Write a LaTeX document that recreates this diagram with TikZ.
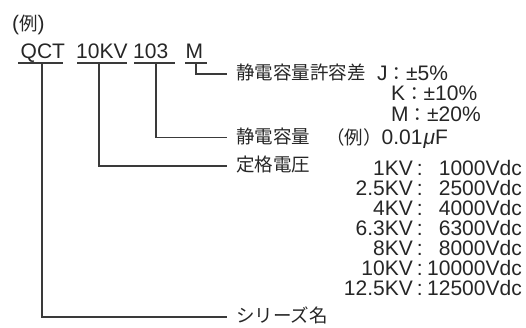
\documentclass[tikz,border=0pt]{standalone}
\usepackage{fontspec}
\setmainfont{Liberation Sans}
\newfontfamily\jp{Noto Sans CJK JP}
\newcommand\jpt[1]{{\jp\fontsize{18.5}{22}\selectfont #1}}
\newcommand\kvrow[2]{\makebox[90pt][r]{#1}\makebox[14pt][c]{:}\makebox[95pt][r]{#2}}
\definecolor{txt}{HTML}{262626}
\definecolor{ln}{HTML}{3A3A3A}
\begin{document}
\begin{tikzpicture}[x=1pt,y=-1pt,
  lat/.style={inner sep=0pt, text=txt, font=\fontsize{21}{25}\selectfont},
  jpl/.style={inner sep=0pt, inner xsep=9pt, anchor=west, text=txt, font=\jp\fontsize{18.5}{22}\selectfont},
  conn/.style={draw=ln, line width=1.3pt},
  uline/.style={draw=ln, line width=1.3pt},
  rowtxt/.style={lat, anchor=base east}]
\useasboundingbox (0,0) rectangle (526,327);
% header
\node[lat, anchor=base west] (ex) at (12,30) {(\jpt{例})};
% code parts
\node[lat, anchor=base west] (qct) at (20.5,58) {QCT};
\node[lat, anchor=base west] (kv) at (76,58) {10KV};
\node[lat, anchor=base west] (cap) at (133,58) {103};
\node[lat, anchor=base west] (tol) at (185.5,58) {M};
% underlines
\draw[uline] (18,63) -- (63,63);
\draw[uline] (77,63) -- (127,63);
\draw[uline] (134,63) -- (175,63);
\draw[uline] (185,63) -- (207,63);
% connector starts
\coordinate (vq) at (42,63);
\coordinate (vk) at (99,63);
\coordinate (vc) at (156,63);
\coordinate (vm) at (196,63);
% labels
\node[jpl] (ltol) at (227,72) {静電容量許容差};
\node[jpl] (lcap) at (227,136) {静電容量};
\node[jpl] (lvolt) at (227,164.5) {定格電圧};
\node[jpl] (lser) at (227,315.5) {シリーズ名};
% connectors
\draw[conn] (vm) |- ([yshift=-2pt]ltol.west);
\draw[conn] (vc) |- ([yshift=-1.5pt]lcap.west);
\draw[conn] (vk) |- ([yshift=-1.5pt]lvolt.west);
\draw[conn] (vq) |- ([yshift=-1.5pt]lser.west);
% tolerance values
\node[lat, anchor=base west] (tj) at (377,80) {J\jpt{：}±5\%};
\node[lat, anchor=base west] (tk) at (391,100) {K\jpt{：}±10\%};
\node[lat, anchor=base west] (tm) at (391,121) {M\jpt{：}±20\%};
% capacitance example
\node[lat, anchor=base west] (cex) at (326,144) {\jpt{（例）}0.01\kern1pt{\itshape μ}F};
% voltage table
\node[rowtxt] (r1) at (522,175) {\kvrow{1KV}{1000Vdc}};
\node[rowtxt] (r2) at (522,195) {\kvrow{2.5KV}{2500Vdc}};
\node[rowtxt] (r3) at (522,215) {\kvrow{4KV}{4000Vdc}};
\node[rowtxt] (r4) at (522,235) {\kvrow{6.3KV}{6300Vdc}};
\node[rowtxt] (r5) at (522,255) {\kvrow{8KV}{8000Vdc}};
\node[rowtxt] (r6) at (522,275) {\kvrow{10KV}{10000Vdc}};
\node[rowtxt] (r7) at (522,295) {\kvrow{12.5KV}{12500Vdc}};
\end{tikzpicture}
\end{document}
